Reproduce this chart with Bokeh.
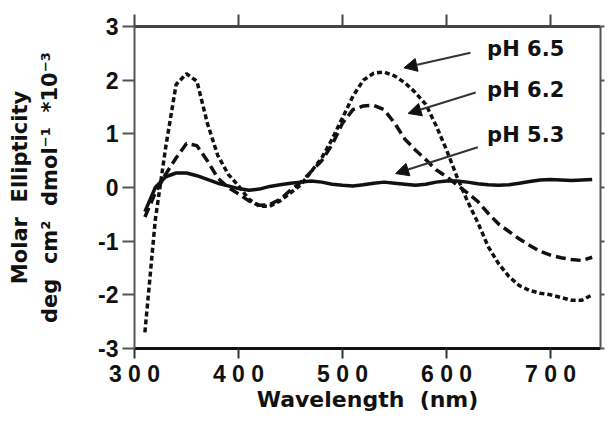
import math
from bokeh.plotting import figure
from bokeh.models import (Range1d, LinearAxis, FixedTicker, Label, Arrow, NormalHead,
                          CustomLabelingPolicy)
from bokeh.embed import file_html
from bokeh.resources import INLINE

# ---- data ----
wavelength = [310, 320, 330, 340, 350, 360, 370, 380, 390, 400,
              410, 420, 430, 440, 450, 460, 470, 480, 490, 500,
              510, 520, 530, 540, 550, 560, 570, 580, 590, 600,
              610, 620, 630, 640, 650, 660, 670, 680, 690, 700,
              710, 720, 730, 740]

ph65 = [-2.70, -0.60, 0.75, 1.92, 2.12, 1.98, 1.20, 0.60, 0.25, 0.03,
        -0.22, -0.35, -0.35, -0.25, -0.10, 0.05, 0.30, 0.55, 0.90, 1.30,
        1.70, 2.00, 2.13, 2.15, 2.08, 1.95, 1.77, 1.55, 1.15, 0.70,
        0.20, -0.25, -0.65, -1.10, -1.42, -1.66, -1.83, -1.92, -1.97, -2.00,
        -2.05, -2.10, -2.10, -2.00]

ph62 = [-0.55, -0.10, 0.25, 0.55, 0.82, 0.78, 0.50, 0.18, 0.00, -0.12,
        -0.25, -0.33, -0.32, -0.22, -0.05, 0.10, 0.30, 0.50, 0.80, 1.20,
        1.45, 1.52, 1.53, 1.45, 1.20, 0.90, 0.70, 0.52, 0.33, 0.20,
        0.05, -0.10, -0.26, -0.48, -0.68, -0.82, -0.96, -1.08, -1.19, -1.26,
        -1.31, -1.34, -1.36, -1.30]

ph53 = [-0.45, 0.00, 0.20, 0.27, 0.27, 0.22, 0.15, 0.08, 0.03, -0.02,
        -0.05, -0.03, 0.02, 0.05, 0.08, 0.10, 0.12, 0.10, 0.06, 0.04,
        0.03, 0.05, 0.08, 0.10, 0.08, 0.06, 0.04, 0.06, 0.10, 0.12,
        0.12, 0.10, 0.07, 0.05, 0.04, 0.05, 0.08, 0.11, 0.14, 0.15,
        0.14, 0.13, 0.14, 0.15]

x_ticks = [300, 400, 500, 600, 700]
x_tick_labels = ["3 0 0", "4 0 0", "5 0 0", "6 0 0", "7 0 0"]
y_ticks = [-3, -2, -1, 0, 1, 2, 3]
y_tick_labels = ["-3", "-2", "-1", "0", "1", "2", "3"]

series_labels = ["pH 6.5", "pH 6.2", "pH 5.3"]
label_x = [639, 639, 639]
label_y = [2.59, 1.81, 0.97]
arrow_tail_x = [623, 628, 630]
arrow_tail_y = [2.51, 1.77, 0.75]
arrow_head_x = [559, 563, 551]
arrow_head_y = [2.23, 1.38, 0.26]

NB = "\u00a0"
y_title_1 = "Molar" + NB + NB + "Ellipticity"
y_title_2 = "deg" + NB + NB + "cm²" + NB + NB + "dmol⁻¹" + NB + NB + "*10⁻³"
x_title = "Wavelength" + NB + NB + "(nm)"

# ---- figure ----
p = figure(width=608, height=423, output_backend="svg", toolbar_location=None,
           x_range=Range1d(300, 748), y_range=Range1d(-3, 3),
           x_axis_location=None, y_axis_location=None,
           min_border_left=134, min_border_right=5,
           min_border_top=26, min_border_bottom=75)
p.outline_line_color = None
p.xgrid.visible = False
p.ygrid.visible = False
p.background_fill_color = "white"
p.border_fill_color = "white"

tick_font = "Liberation Sans"
lab_font = "DejaVu Sans"
no_labels = CustomLabelingPolicy(code="for (const i of indices) indices.unset(i); return indices")

def style_title(ax, standoff, size="21px"):
    ax.axis_label_text_font = lab_font
    ax.axis_label_text_font_style = "bold"
    ax.axis_label_text_font_size = size
    ax.axis_label_text_color = "#111111"
    ax.axis_label_standoff = standoff

left = LinearAxis(ticker=FixedTicker(ticks=y_ticks))
left.major_label_overrides = {t: s for t, s in zip(y_ticks, y_tick_labels)}
left.axis_line_color = "#555555"
left.axis_line_width = 2
left.major_tick_line_color = "#555555"
left.major_tick_line_width = 2
left.major_tick_out = 12
left.major_tick_in = 0
left.minor_tick_line_color = None
left.major_label_text_font = tick_font
left.major_label_text_font_style = "bold"
left.major_label_text_font_size = "23px"
left.major_label_text_color = "#111111"
left.major_label_standoff = 4
left.axis_label = y_title_2
style_title(left, 33)
p.add_layout(left, "left")

left_outer = LinearAxis(ticker=FixedTicker(ticks=[]))
left_outer.axis_line_color = None
left_outer.major_tick_line_color = None
left_outer.minor_tick_line_color = None
left_outer.major_label_policy = no_labels
left_outer.major_label_text_font_size = "1px"
left_outer.major_label_standoff = 0
left_outer.major_tick_out = 0
left_outer.axis_label = y_title_1
style_title(left_outer, 4)
p.add_layout(left_outer, "left")

bottom = LinearAxis(ticker=FixedTicker(ticks=x_ticks))
bottom.major_label_overrides = {t: s for t, s in zip(x_ticks, x_tick_labels)}
bottom.axis_line_color = "#111111"
bottom.axis_line_width = 3
bottom.major_tick_line_color = "#333333"
bottom.major_tick_line_width = 2
bottom.major_tick_out = 10
bottom.major_tick_in = 0
bottom.minor_tick_line_color = None
bottom.major_label_text_font = tick_font
bottom.major_label_text_font_style = "bold"
bottom.major_label_text_font_size = "23px"
bottom.major_label_text_color = "#111111"
bottom.major_label_standoff = 2
bottom.axis_label = x_title
style_title(bottom, -3, "22px")
p.add_layout(bottom, "below")

top = LinearAxis(ticker=FixedTicker(ticks=x_ticks))
top.axis_line_color = "#444444"
top.axis_line_width = 3
top.major_tick_line_color = "#444444"
top.major_tick_line_width = 2
top.major_tick_out = 12
top.major_tick_in = 0
top.minor_tick_line_color = None
top.major_label_policy = no_labels
top.major_label_text_font_size = "1px"
top.major_label_standoff = 0
p.add_layout(top, "above")

right = LinearAxis(ticker=FixedTicker(ticks=y_ticks))
right.axis_line_color = "#555555"
right.axis_line_width = 2
right.major_tick_line_color = "#555555"
right.major_tick_line_width = 2
right.major_tick_out = 4
right.major_tick_in = 0
right.minor_tick_line_color = None
right.major_label_policy = no_labels
right.major_label_text_font_size = "1px"
right.major_label_standoff = 0
p.add_layout(right, "right")

# ---- curves ----
p.line(wavelength, ph65, line_color="#111111", line_width=3.5, line_dash="5 3")
p.line(wavelength, ph62, line_color="#111111", line_width=3.5, line_dash="10 5")
p.line(wavelength, ph53, line_color="#111111", line_width=3.5)

# ---- arrows and labels ----
for i in range(3):
    p.add_layout(Arrow(end=NormalHead(size=13, fill_color="#111111", line_color="#111111"),
                       x_start=arrow_tail_x[i], y_start=arrow_tail_y[i],
                       x_end=arrow_head_x[i], y_end=arrow_head_y[i],
                       line_color="#333333", line_width=2))
    p.add_layout(Label(x=label_x[i], y=label_y[i], text=series_labels[i],
                       text_font=lab_font, text_font_style="bold",
                       text_font_size="21px", text_color="#111111",
                       text_align="left", text_baseline="middle"))

open("out.html", "w").write(file_html(p, INLINE))
